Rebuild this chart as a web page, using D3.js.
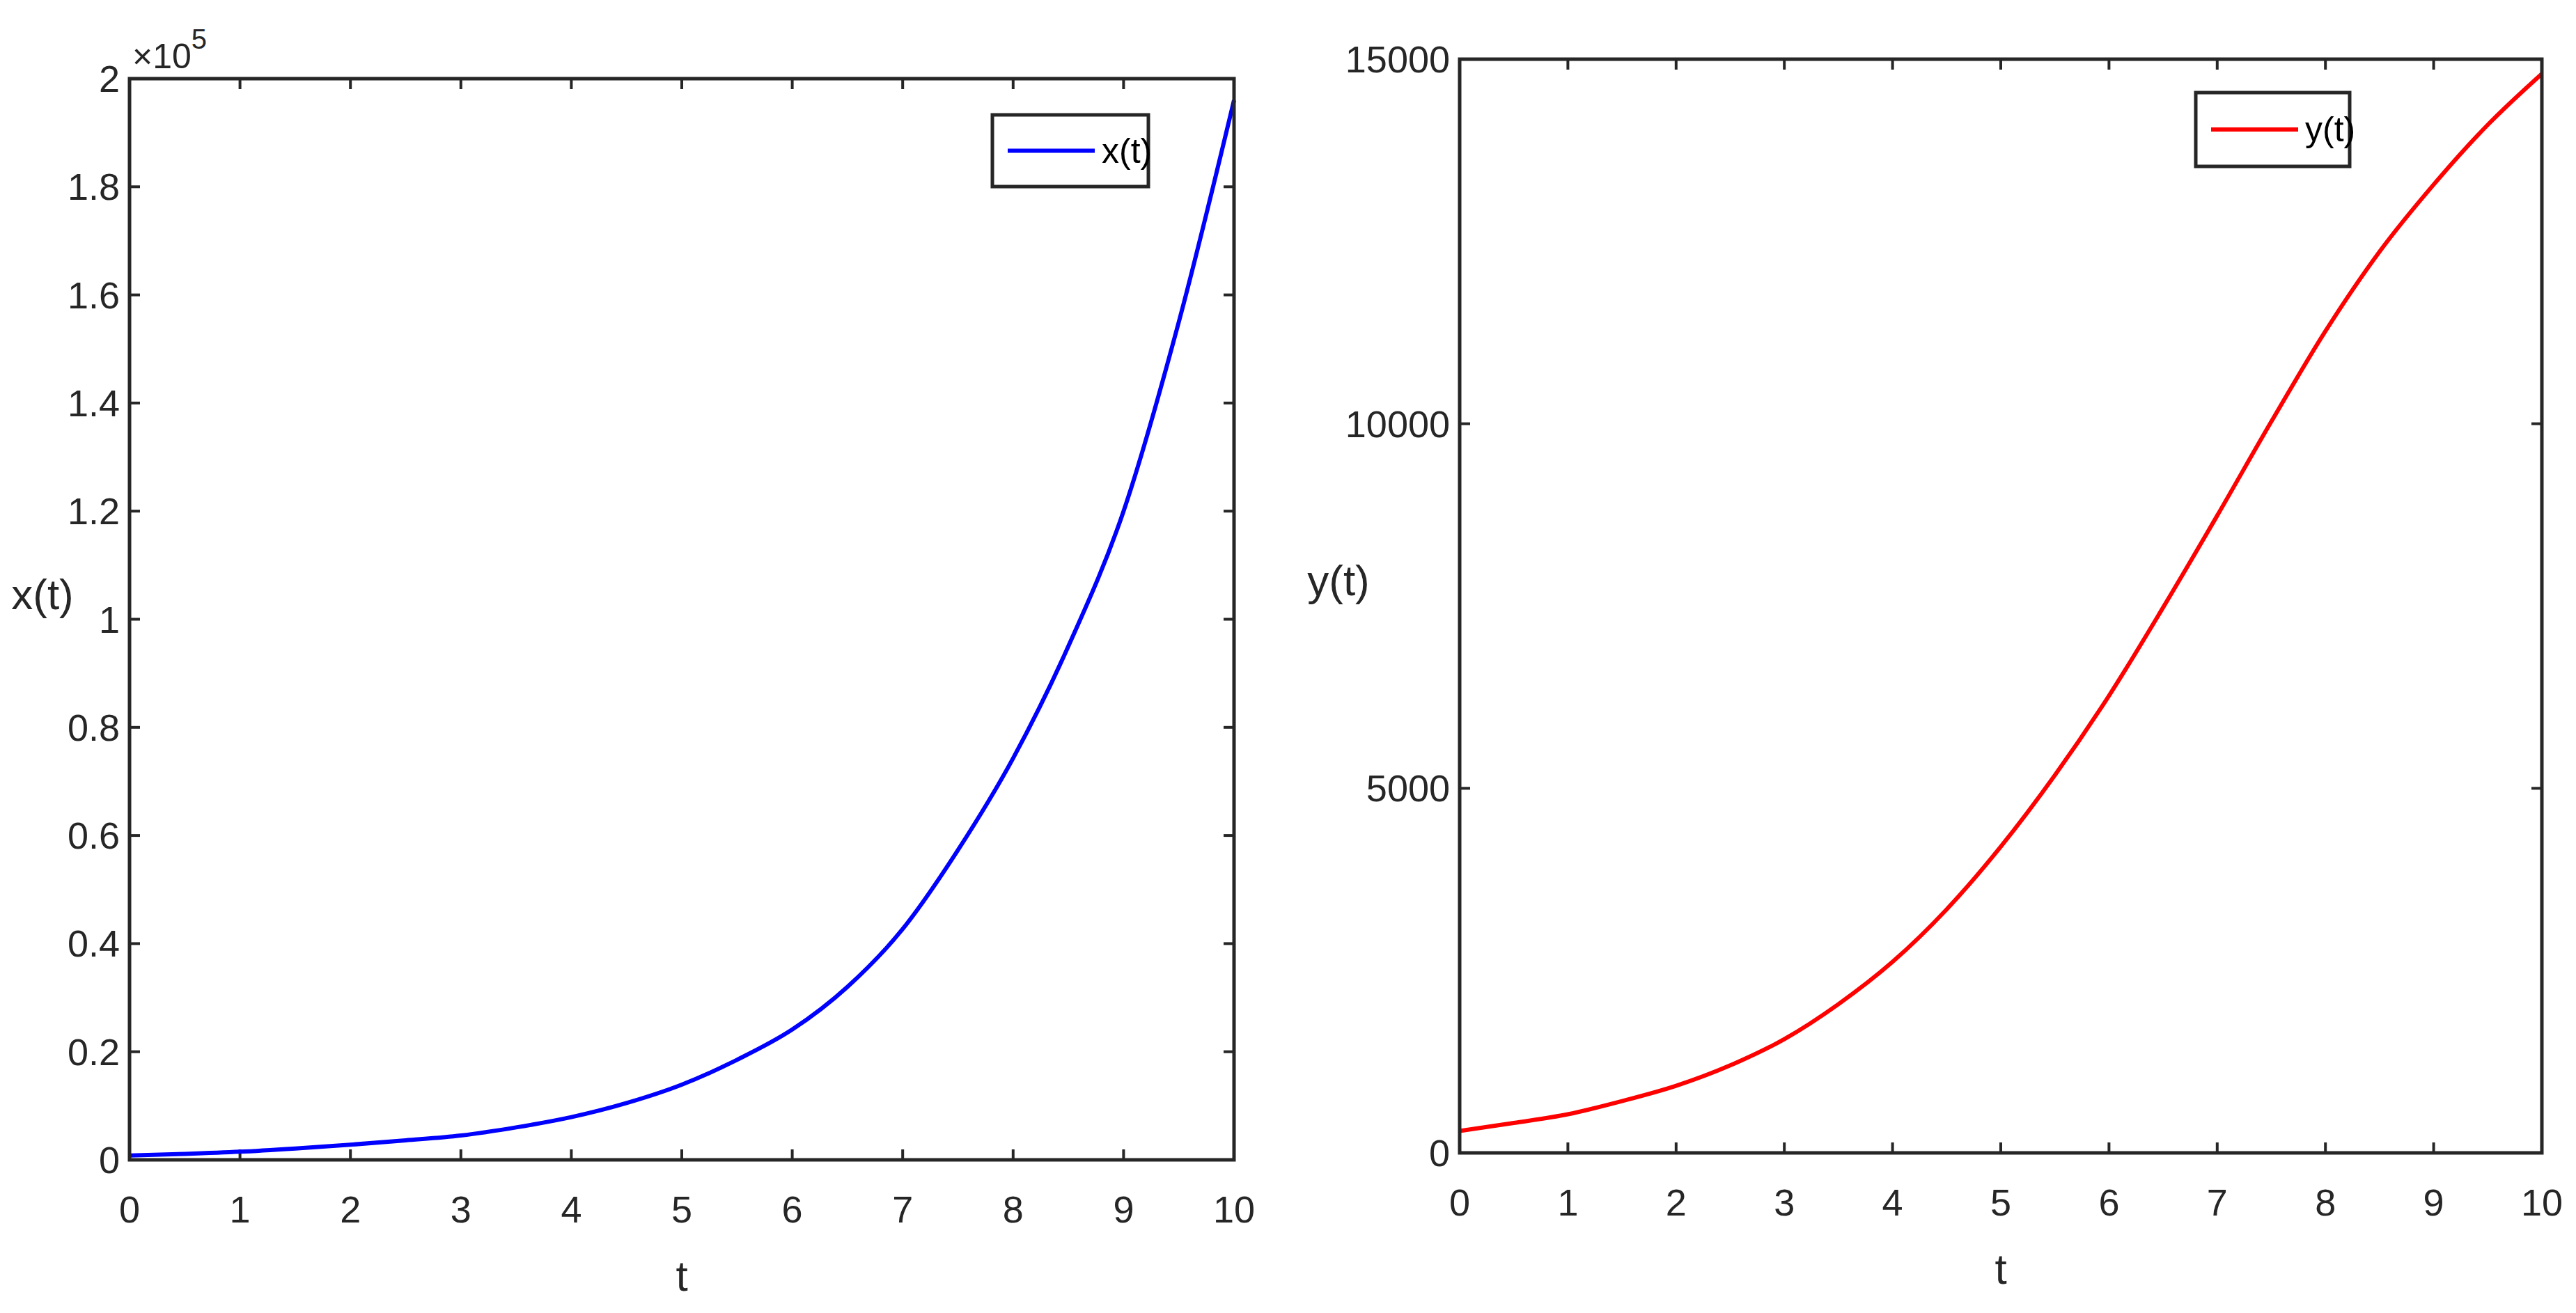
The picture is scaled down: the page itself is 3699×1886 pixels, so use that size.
<!DOCTYPE html>
<html><head><meta charset="utf-8">
<script src="https://cdn.jsdelivr.net/npm/d3@7"></script>
<style>body{margin:0;background:#fff}text{font-family:"Liberation Sans Narrow","Liberation Sans",Arial,sans-serif;fill:#262626}</style>
</head><body>
<svg id="c" width="3699" height="1886"></svg>
<script>
const tValues=[0,0.5,1,1.5,2,2.5,3,3.5,4,4.5,5,5.5,6,6.5,7,7.5,8,8.5,9,9.5,10];
const xSeries=[800,1100,1500,2100,2800,3600,4500,6000,7900,10500,13900,18500,24100,32000,42700,57300,74300,95000,120000,155000,196000];
const ySeries=[300,410,530,710,920,1200,1560,2040,2620,3340,4200,5180,6270,7480,8740,10030,11270,12360,13280,14100,14800];
const xTicks=[0,1,2,3,4,5,6,7,8,9,10];
const leftYTicks=[0,0.2e5,0.4e5,0.6e5,0.8e5,1e5,1.2e5,1.4e5,1.6e5,1.8e5,2e5];
const leftYLabels=["0","0.2","0.4","0.6","0.8","1","1.2","1.4","1.6","1.8","2"];
const rightYTicks=[0,5000,10000,15000];
const svg=d3.select("#c");
function panel(o){
  const x=d3.scaleLinear().domain([0,10]).range([o.l,o.r]);
  const y=d3.scaleLinear().domain([0,o.ymax]).range([o.b,o.t]);
  const g=svg.append("g");
  const tl=15;
  // ticks inward on all sides
  o.xt.forEach(v=>{
    g.append("line").attr("x1",x(v)).attr("x2",x(v)).attr("y1",o.b).attr("y2",o.b-tl).attr("stroke","#262626").attr("stroke-width",4);
    g.append("line").attr("x1",x(v)).attr("x2",x(v)).attr("y1",o.t).attr("y2",o.t+tl).attr("stroke","#262626").attr("stroke-width",4);
    g.append("text").attr("x",x(v)).attr("y",o.b+90).attr("text-anchor","middle").attr("font-size",54).text(v);
  });
  o.yt.forEach((v,i)=>{
    g.append("line").attr("x1",o.l).attr("x2",o.l+tl).attr("y1",y(v)).attr("y2",y(v)).attr("stroke","#262626").attr("stroke-width",4);
    g.append("line").attr("x1",o.r).attr("x2",o.r-tl).attr("y1",y(v)).attr("y2",y(v)).attr("stroke","#262626").attr("stroke-width",4);
    g.append("text").attr("x",o.l-14).attr("y",y(v)+19).attr("text-anchor","end").attr("font-size",54).text(o.yl[i]);
  });
  g.append("path").datum(o.data).attr("fill","none").attr("stroke",o.color).attr("stroke-width",6)
    .attr("d",d3.line().x((d,i)=>x(tValues[i])).y(d=>y(d)).curve(d3.curveMonotoneX));
  g.append("rect").attr("x",o.l).attr("y",o.t).attr("width",o.r-o.l).attr("height",o.b-o.t).attr("fill","none").attr("stroke","#262626").attr("stroke-width",5);
  g.append("text").attr("x",(o.l+o.r)/2).attr("y",o.b+188).attr("text-anchor","middle").attr("font-size",62).text("t");
  g.append("text").attr("x",o.yx).attr("y",o.yy).attr("text-anchor","middle").attr("font-size",62).text(o.ylab);
  // legend
  const L=o.leg;
  g.append("rect").attr("x",L[0]).attr("y",L[1]).attr("width",L[2]).attr("height",L[3]).attr("fill","#fff").attr("stroke","#262626").attr("stroke-width",5);
  g.append("line").attr("x1",L[0]+22).attr("x2",L[0]+147).attr("y1",L[1]+L[3]/2).attr("y2",L[1]+L[3]/2).attr("stroke",o.color).attr("stroke-width",6);
  g.append("text").attr("x",L[0]+157).attr("y",L[1]+L[3]/2+17).attr("font-size",50).style("fill","#000").text(o.ylab);
  return g;
}
panel({l:186,r:1772,t:113,b:1666,ymax:2e5,xt:xTicks,yt:leftYTicks,yl:leftYLabels,data:xSeries,color:"#0000ff",ylab:"x(t)",yx:61,yy:875,leg:[1425,165,224,103]});
const g2=panel({l:2096,r:3650,t:85,b:1656,ymax:15000,xt:xTicks,yt:rightYTicks,yl:rightYTicks.map(String),data:ySeries,color:"#ff0000",ylab:"y(t)",yx:1922,yy:855,leg:[3153,133,221,106]});
const ex=svg.append("text").attr("x",190).attr("y",98).attr("font-size",50);
ex.append("tspan").text("×10");
ex.append("tspan").attr("dy",-28).attr("font-size",40).text("5");
</script>
</body></html>
